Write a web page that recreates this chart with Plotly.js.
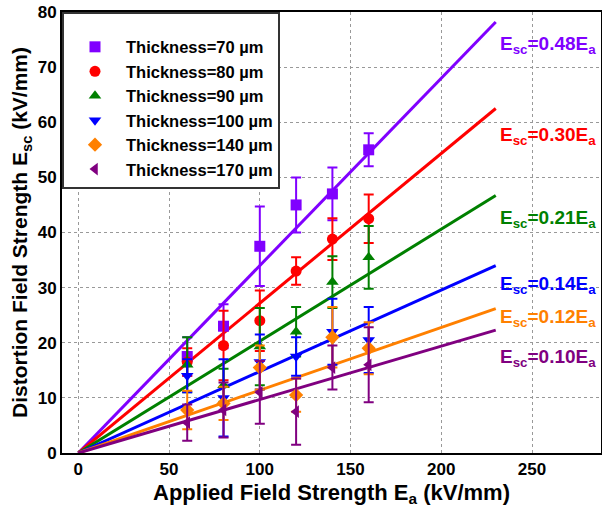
<!DOCTYPE html>
<html>
<head>
<meta charset="utf-8">
<script src="https://cdn.plot.ly/plotly-3.0.1.min.js"></script>
<style>html,body{margin:0;padding:0;background:#fff;}#chart{width:602px;height:512px;}</style>
</head>
<body>
<div id="chart"></div>
<script>
// Applied field strength (kV/mm)
const appliedField = [60, 80, 100, 120, 140, 160];

const seriesNames = ['Thickness=70 µm', 'Thickness=80 µm', 'Thickness=90 µm',
                     'Thickness=100 µm', 'Thickness=140 µm', 'Thickness=170 µm'];

// Distortion field strength means and error (kV/mm)
const t70  = [17.5, 23.0, 37.5, 45.0, 47.0, 55.0];
const t80  = [16.5, 19.5, 24.0, 33.0, 38.8, 42.5];
const t90  = [16.0, 12.3, 19.3, 22.0, 31.0, 35.5];
const t100 = [14.0, 10.0, 16.5, 17.5, 22.0, 20.5];
const t140 = [7.8, 9.0, 15.5, 10.5, 21.0, 19.0];
const t170 = [5.5, 7.8, 11.0, 7.5, 15.5, 16.0];

const e70  = [3.5, 4.0, 7.2, 5.0, 4.8, 3.0];
const e80  = [2.5, 6.3, 5.5, 2.5, 3.8, 4.4];
const e90  = [5.0, 3.0, 7.0, 4.5, 4.7, 5.7];
const e100 = [3.0, 7.0, 5.0, 3.5, 6.0, 6.0];
const e140 = [3.5, 3.0, 4.0, 3.0, 5.5, 4.7];
const e170 = [3.3, 5.0, 5.7, 6.0, 4.0, 6.8];

// Fitted lines: from origin to x = 230, end values
const fitX = [0, 230];
const fitEnd = [78.2, 62.5, 46.7, 34.0, 26.2, 22.3];
const fitLabels = ['E<sub>sc</sub>=0.48E<sub>a</sub>', 'E<sub>sc</sub>=0.30E<sub>a</sub>',
                   'E<sub>sc</sub>=0.21E<sub>a</sub>', 'E<sub>sc</sub>=0.14E<sub>a</sub>',
                   'E<sub>sc</sub>=0.12E<sub>a</sub>', 'E<sub>sc</sub>=0.10E<sub>a</sub>'];

const xTicks = [0, 50, 100, 150, 200, 250];
const yTicks = [0, 10, 20, 30, 40, 50, 60, 70, 80];

const colors = ['#8000ff', '#ff0000', '#008000', '#0000ff', '#ff8000', '#800080'];
const symbols = ['square', 'circle', 'triangle-up', 'triangle-down', 'diamond', 'triangle-left'];
const values = [t70, t80, t90, t100, t140, t170];
const errors = [e70, e80, e90, e100, e140, e170];
const labelY = [74, 57.5, 42.5, 30.5, 24.5, 17.3];

const FONT = 'Arial, "Liberation Sans", sans-serif';
const traces = [];
for (let i = 0; i < 6; i++) {
  traces.push({
    x: fitX, y: [0, fitEnd[i]], mode: 'lines', showlegend: false,
    line: {color: colors[i], width: 3}, hoverinfo: 'skip'
  });
}
for (let i = 0; i < 6; i++) {
  traces.push({
    x: appliedField, y: values[i], name: seriesNames[i], mode: 'markers',
    marker: {color: colors[i], symbol: symbols[i], size: 11},
    error_y: {type: 'data', array: errors[i], visible: true, color: colors[i], thickness: 2, width: 5}
  });
}

const annotations = fitLabels.map((t, i) => ({
  text: t, x: 231, y: labelY[i], xref: 'x', yref: 'y', xanchor: 'left', yanchor: 'middle',
  showarrow: false, font: {family: FONT, size: 19, color: colors[i], weight: 'bold'}
}));

const layout = {
  width: 602, height: 512,
  margin: {l: 62, r: 1, t: 12, b: 59},
  paper_bgcolor: '#fff', plot_bgcolor: '#fff',
  font: {family: FONT, size: 17, color: '#000', weight: 'bold'},
  xaxis: {
    range: [-9, 288], tickvals: xTicks, showgrid: true, griddash: 'dot', gridcolor: '#999', gridwidth: 1,
    zeroline: false, showline: true, linecolor: '#000', linewidth: 2, mirror: true, ticks: '',
    tickfont: {family: FONT, size: 17, weight: 'bold'},
    title: {text: 'Applied Field Strength E<sub>a</sub> (kV/mm)', font: {family: FONT, size: 22, weight: 'bold'}, standoff: 6}
  },
  yaxis: {
    range: [0, 80], tickvals: yTicks, showgrid: true, griddash: 'dot', gridcolor: '#999', gridwidth: 1,
    zeroline: false, showline: true, linecolor: '#000', linewidth: 2, mirror: true, ticks: '',
    tickfont: {family: FONT, size: 17, weight: 'bold'},
    title: {text: 'Distortion Field Strength E<sub>sc</sub> (kV/mm)', font: {family: FONT, size: 21, weight: 'bold'}, standoff: 4}
  },
  legend: {
    x: 0, y: 1, xanchor: 'left', yanchor: 'top', bgcolor: '#fff', bordercolor: '#333', borderwidth: 2,
    itemwidth: 52,
    font: {family: FONT, size: 16.5, weight: 'bold'}, title: {text: ' ', font: {size: 12}}
  },
  annotations: annotations,
  showlegend: true
};
Plotly.newPlot('chart', traces, layout, {displayModeBar: false, staticPlot: true});
</script>
</body>
</html>
